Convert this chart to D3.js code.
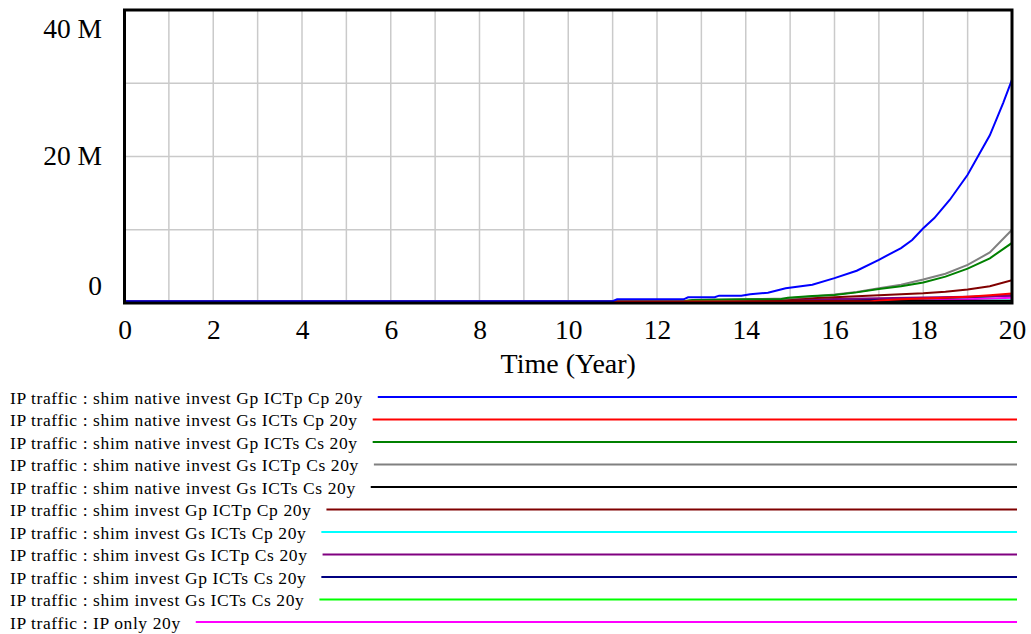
<!DOCTYPE html>
<html>
<head>
<meta charset="utf-8">
<script src="https://cdn.jsdelivr.net/npm/d3@7"></script>
<style>
  html, body { margin: 0; padding: 0; background: #fff; }
  svg { display: block; font-family: "Liberation Serif", "Times New Roman", serif; }
</style>
</head>
<body>
<svg id="chart" width="1031" height="634"></svg>
<script>
// IP traffic simulation runs, values in millions, as [year, value] pairs
const nativeGpICTpCp = [[0,0.25],[11,0.25],[11.1,0.5],[12.6,0.5],[12.7,0.78],[13.3,0.78],[13.4,1.0],[13.9,1.0],[14.1,1.2],[14.5,1.4],[14.9,2.0],[15.5,2.5],[16,3.4],[16.5,4.4],[17,5.9],[17.5,7.5],[17.75,8.6],[18,10.2],[18.25,11.6],[18.6,14.1],[19,17.5],[19.5,22.9],[19.8,27.3],[20,30.5]];
const nativeGsICTsCp = [[0,0.2],[16.8,0.2],[17,0.35],[17.5,0.5],[18,0.6],[18.5,0.7],[19,0.85],[19.5,1.05],[20,1.3]];
const nativeGpICTsCs = [[0,0.25],[12.6,0.25],[12.8,0.4],[14,0.5],[14.8,0.55],[14.95,0.72],[15.5,0.95],[16,1.1],[16.5,1.45],[17,1.9],[17.5,2.3],[18,2.8],[18.5,3.6],[19,4.7],[19.5,6.1],[20,8.2]];
const nativeGsICTpCs = [[0,0.25],[12.6,0.25],[12.8,0.4],[14,0.5],[14.9,0.6],[15.5,0.9],[16,1.15],[16.5,1.5],[17,2.0],[17.5,2.5],[18,3.2],[18.5,4.0],[19,5.2],[19.5,6.9],[20,10.0]];
const nativeGsICTsCs = [[0,0.15],[20,0.3]];
const investGpICTpCp = [[0,0.25],[13,0.25],[14,0.4],[15,0.55],[16,0.8],[17,1.05],[18,1.32],[18.5,1.55],[19,1.85],[19.5,2.3],[20,3.1]];
const investGsICTsCp = [[0,0.15],[18,0.2],[20,0.35]];
const investGsICTpCs = [[0,0.2],[14,0.25],[15,0.4],[16,0.55],[17,0.65],[18,0.75],[19,0.85],[20,1.0]];
const investGpICTsCs = [[0,0.2],[15,0.25],[16,0.35],[17,0.45],[18,0.6],[19,0.8],[20,1.05]];
const investGsICTsCs = [[0,0.1],[20,0.15]];
const ipOnly = [[0,0.2],[17,0.25],[18,0.35],[19,0.5],[20,0.7]];

const seriesNames = [
  "IP traffic : shim native invest Gp ICTp Cp 20y",
  "IP traffic : shim native invest Gs ICTs Cp 20y",
  "IP traffic : shim native invest Gp ICTs Cs 20y",
  "IP traffic : shim native invest Gs ICTp Cs 20y",
  "IP traffic : shim native invest Gs ICTs Cs 20y",
  "IP traffic : shim invest Gp ICTp Cp 20y",
  "IP traffic : shim invest Gs ICTs Cp 20y",
  "IP traffic : shim invest Gs ICTp Cs 20y",
  "IP traffic : shim invest Gp ICTs Cs 20y",
  "IP traffic : shim invest Gs ICTs Cs 20y",
  "IP traffic : IP only 20y"
];
const seriesValues = [
  nativeGpICTpCp, nativeGsICTsCp, nativeGpICTsCs, nativeGsICTpCs, nativeGsICTsCs,
  investGpICTpCp, investGsICTsCp, investGsICTpCs, investGpICTsCs, investGsICTsCs, ipOnly
];
const seriesColors = ["#0000ff","#ff0000","#008000","#808080","#000000","#800000","#00ffff","#800080","#000080","#00ff00","#ff00ff"];

const xTicks = [0,2,4,6,8,10,12,14,16,18,20];
const yTicks = [0,20,40];
const yTickLabels = ["0","20 M","40 M"];

const svg = d3.select("#chart");
const plotLeft = 124.5, plotRight = 1012, plotTop = 10, plotBottom = 303;

const x = d3.scaleLinear().domain([0,20]).range([plotLeft,plotRight]);
const y = d3.scaleLinear().domain([0,40]).range([plotBottom,plotTop]);

// grid
const grid = svg.append("g");
grid.selectAll("line.v").data(d3.range(1,20)).join("line")
  .attr("x1", d => x(d)).attr("x2", d => x(d))
  .attr("y1", plotTop).attr("y2", plotBottom)
  .attr("stroke", "#cacaca").attr("stroke-width", 1.5);
grid.selectAll("line.h").data([10,20,30]).join("line")
  .attr("x1", plotLeft).attr("x2", plotRight)
  .attr("y1", d => y(d)).attr("y2", d => y(d))
  .attr("stroke", "#cacaca").attr("stroke-width", 1.5);

// series
svg.append("clipPath").attr("id","plotClip").append("rect")
  .attr("x", plotLeft).attr("y", plotTop).attr("width", plotRight-plotLeft).attr("height", plotBottom-plotTop);
const line = d3.line().x(d => x(d[0])).y(d => y(d[1]));
const order = d3.range(seriesValues.length).reverse();
svg.append("g").attr("clip-path","url(#plotClip)")
  .selectAll("path").data(order).join("path")
  .attr("d", i => line(seriesValues[i]))
  .attr("fill", "none")
  .attr("stroke", i => seriesColors[i])
  .attr("stroke-width", 2);

// frame
svg.append("rect")
  .attr("x", plotLeft).attr("y", plotTop).attr("width", plotRight-plotLeft).attr("height", plotBottom-plotTop)
  .attr("fill", "none").attr("stroke", "#000").attr("stroke-width", 3);

// x axis labels
const xAxis = d3.axisBottom(x).tickValues(xTicks).tickSize(0).tickPadding(0).tickFormat(d3.format("d"));
const xg = svg.append("g").attr("transform", `translate(0,${plotBottom})`).call(xAxis);
xg.select(".domain").remove();
xg.selectAll("text").attr("y", 36).attr("dy", null)
  .attr("font-family", "Liberation Serif, serif").attr("font-size", 27.5).attr("fill", "#000");

// y axis labels (top label sits inside the frame height, bottom label raised)
const yLabelShift = {0: -8, 20: 8.5, 40: 27.5};
svg.append("g").selectAll("text").data(yTicks).join("text")
  .attr("x", 102)
  .attr("y", d => y(d) + yLabelShift[d])
  .attr("text-anchor", "end")
  .attr("font-size", 27.5)
  .text((d, i) => yTickLabels[i]);

// axis title
svg.append("text")
  .attr("x", (plotLeft + plotRight) / 2).attr("y", 373)
  .attr("text-anchor", "middle").attr("font-size", 28)
  .text("Time (Year)");

// legend
const legend = svg.append("g");
seriesNames.forEach((name, i) => {
  const cy = 397 + i * 22.5;
  const t = legend.append("text").attr("x", 10).attr("y", cy + 6.5)
    .attr("font-size", 17.5).attr("letter-spacing", 0.6).text(name);
  const w = t.node().getBBox().width;
  legend.append("line")
    .attr("x1", 10 + w + 15).attr("x2", 1017)
    .attr("y1", cy).attr("y2", cy)
    .attr("stroke", seriesColors[i]).attr("stroke-width", 2);
});
</script>
</body>
</html>
